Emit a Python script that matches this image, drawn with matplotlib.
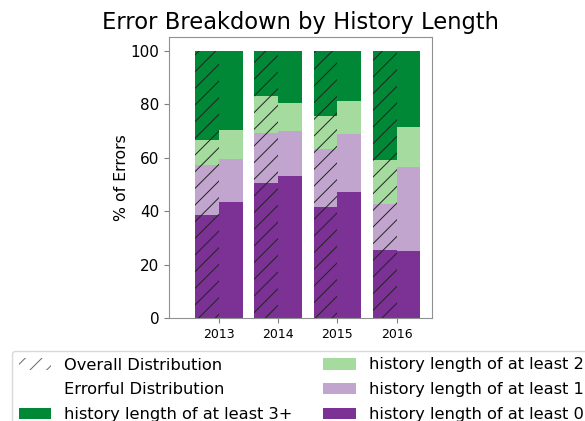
import numpy as np
import matplotlib
matplotlib.use("Agg")
import matplotlib.pyplot as plt
from matplotlib.patches import Patch

plt.rcParams["hatch.linewidth"] = 0.7

years = ["2013", "2014", "2015", "2016"]

# cumulative tops (%) of each stack level
overall_0 = [38.5, 50.6, 41.6, 25.3]
overall_1 = [57.1, 69.3, 63.4, 42.6]
overall_2 = [66.7, 83.0, 75.5, 59.0]
overall_3 = [100, 100, 100, 100]

errorful_0 = [43.5, 53.2, 47.2, 25.1]
errorful_1 = [59.4, 69.9, 68.7, 56.6]
errorful_2 = [70.2, 80.5, 81.2, 71.4]
errorful_3 = [100, 100, 100, 100]

level_labels = ["history length of at least 0", "history length of at least 1",
                "history length of at least 2", "history length of at least 3+"]
colors = ["#7b3294", "#c2a5cf", "#a6dba0", "#008837"]

fig = plt.figure(figsize=(5.85, 4.21), dpi=100)
ax = fig.add_axes([0.2889, 0.2447, 0.4491, 0.6663])

x = np.arange(len(years))
w = 0.4

overall = [overall_0, overall_1, overall_2, overall_3]
errorful = [errorful_0, errorful_1, errorful_2, errorful_3]

bottom_o = np.zeros(len(years))
bottom_e = np.zeros(len(years))
for lvl in range(4):
    top_o = np.array(overall[lvl], dtype=float)
    top_e = np.array(errorful[lvl], dtype=float)
    ax.bar(x - w, top_o - bottom_o, w, bottom=bottom_o, align="edge",
           color=colors[lvl], edgecolor="#222222", linewidth=0, hatch="//")
    ax.bar(x, top_e - bottom_e, w, bottom=bottom_e, align="edge",
           color=colors[lvl], linewidth=0)
    bottom_o = top_o
    bottom_e = top_e

ax.set_xlim(-0.84, 3.59)
ax.set_ylim(0, 105)
ax.set_xticks(x)
ax.set_xticklabels(years, fontsize=9)
ax.set_yticks([0, 20, 40, 60, 80, 100])
ax.tick_params(axis="y", labelsize=11)
ax.tick_params(colors="#808080", labelcolor="black")
for s in ax.spines.values():
    s.set_color("#909090")
ax.set_ylabel("% of Errors", fontsize=11.3, labelpad=1)
ax.set_title("Error Breakdown by History Length", fontsize=16.3)

handles = [
    Patch(facecolor="white", edgecolor="#666666", linewidth=0, hatch="//"),
    Patch(facecolor="white", edgecolor="none"),
    Patch(facecolor=colors[3]),
    Patch(facecolor=colors[2]),
    Patch(facecolor=colors[1]),
    Patch(facecolor=colors[0]),
]
labels = ["Overall Distribution", "Errorful Distribution", level_labels[3],
          level_labels[2], level_labels[1], level_labels[0]]
fig.legend(handles, labels, ncol=2, loc="upper left",
           bbox_to_anchor=(12 / 585, 1 - 351 / 421), borderaxespad=0,
           fontsize=11.7, columnspacing=1.9, handletextpad=0.8,
           labelspacing=0.6, frameon=True, edgecolor="#d0d0d0")

fig.savefig("out.png", dpi=100)
